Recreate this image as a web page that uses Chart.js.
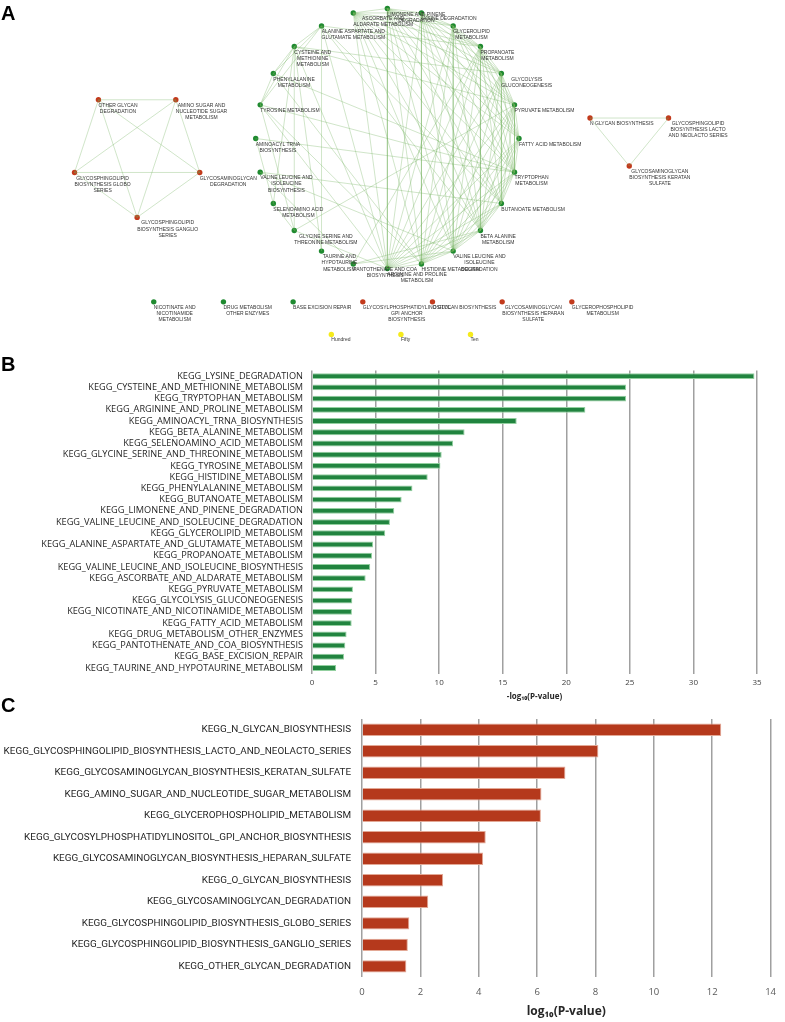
<!DOCTYPE html>
<html>
<head>
<meta charset="utf-8">
<script src="https://cdn.jsdelivr.net/npm/chart.js@4.4.1/dist/chart.umd.min.js"></script>
<style>
  body { margin: 0; background: #fff; width: 785px; height: 1022px; position: relative; overflow: hidden; }
  .box { position: absolute; left: 0; }
  .box canvas { display: block; }
  .tag { position: absolute; left: 1px; font: bold 20px "Liberation Sans", Arial, sans-serif; line-height: 20px; color: #000; }
</style>
</head>
<body>
<div class="box" style="top:0"><canvas id="net" width="785" height="355"></canvas></div>
<div class="box" style="top:356px"><canvas id="chartB" width="785" height="346"></canvas></div>
<div class="box" style="top:702px"><canvas id="chartC" width="785" height="320"></canvas></div>
<div class="tag" style="top:3px">A</div>
<div class="tag" style="top:354px">B</div>
<div class="tag" style="top:695px">C</div>

<script>
// ---- panel B data (green, -log10 P) ----
const bPathways = [
  "KEGG_LYSINE_DEGRADATION",
  "KEGG_CYSTEINE_AND_METHIONINE_METABOLISM",
  "KEGG_TRYPTOPHAN_METABOLISM",
  "KEGG_ARGININE_AND_PROLINE_METABOLISM",
  "KEGG_AMINOACYL_TRNA_BIOSYNTHESIS",
  "KEGG_BETA_ALANINE_METABOLISM",
  "KEGG_SELENOAMINO_ACID_METABOLISM",
  "KEGG_GLYCINE_SERINE_AND_THREONINE_METABOLISM",
  "KEGG_TYROSINE_METABOLISM",
  "KEGG_HISTIDINE_METABOLISM",
  "KEGG_PHENYLALANINE_METABOLISM",
  "KEGG_BUTANOATE_METABOLISM",
  "KEGG_LIMONENE_AND_PINENE_DEGRADATION",
  "KEGG_VALINE_LEUCINE_AND_ISOLEUCINE_DEGRADATION",
  "KEGG_GLYCEROLIPID_METABOLISM",
  "KEGG_ALANINE_ASPARTATE_AND_GLUTAMATE_METABOLISM",
  "KEGG_PROPANOATE_METABOLISM",
  "KEGG_VALINE_LEUCINE_AND_ISOLEUCINE_BIOSYNTHESIS",
  "KEGG_ASCORBATE_AND_ALDARATE_METABOLISM",
  "KEGG_PYRUVATE_METABOLISM",
  "KEGG_GLYCOLYSIS_GLUCONEOGENESIS",
  "KEGG_NICOTINATE_AND_NICOTINAMIDE_METABOLISM",
  "KEGG_FATTY_ACID_METABOLISM",
  "KEGG_DRUG_METABOLISM_OTHER_ENZYMES",
  "KEGG_PANTOTHENATE_AND_COA_BIOSYNTHESIS",
  "KEGG_BASE_EXCISION_REPAIR",
  "KEGG_TAURINE_AND_HYPOTAURINE_METABOLISM"
];
const bScores = [34.8, 24.7, 24.7, 21.5, 16.1, 12.0, 11.1, 10.2, 10.1, 9.1, 7.9, 7.05,
  6.47, 6.13, 5.76, 4.8, 4.72, 4.58, 4.22, 3.22, 3.17, 3.14, 3.12, 2.72, 2.62, 2.52, 1.89];
const bTicks = [0, 5, 10, 15, 20, 25, 30, 35];

// ---- panel C data (red, log10 P) ----
const cPathways = [
  "KEGG_N_GLYCAN_BIOSYNTHESIS",
  "KEGG_GLYCOSPHINGOLIPID_BIOSYNTHESIS_LACTO_AND_NEOLACTO_SERIES",
  "KEGG_GLYCOSAMINOGLYCAN_BIOSYNTHESIS_KERATAN_SULFATE",
  "KEGG_AMINO_SUGAR_AND_NUCLEOTIDE_SUGAR_METABOLISM",
  "KEGG_GLYCEROPHOSPHOLIPID_METABOLISM",
  "KEGG_GLYCOSYLPHOSPHATIDYLINOSITOL_GPI_ANCHOR_BIOSYNTHESIS",
  "KEGG_GLYCOSAMINOGLYCAN_BIOSYNTHESIS_HEPARAN_SULFATE",
  "KEGG_O_GLYCAN_BIOSYNTHESIS",
  "KEGG_GLYCOSAMINOGLYCAN_DEGRADATION",
  "KEGG_GLYCOSPHINGOLIPID_BIOSYNTHESIS_GLOBO_SERIES",
  "KEGG_GLYCOSPHINGOLIPID_BIOSYNTHESIS_GANGLIO_SERIES",
  "KEGG_OTHER_GLYCAN_DEGRADATION"
];
const cScores = [12.31, 8.1, 6.97, 6.15, 6.13, 4.24, 4.15, 2.78, 2.27, 1.62, 1.57, 1.52];
const cTicks = [0, 2, 4, 6, 8, 10, 12, 14];

// ---- panel A network ----
const greenRing = [
  ["LIM", "LIMONENE AND PINENE\nDEGRADATION"],
  ["LYS", "LYSINE DEGRADATION"],
  ["GLL", "GLYCEROLIPID\nMETABOLISM"],
  ["PRO", "PROPANOATE\nMETABOLISM"],
  ["GLY", "GLYCOLYSIS\nGLUCONEOGENESIS"],
  ["PYR", "PYRUVATE METABOLISM"],
  ["FAT", "FATTY ACID METABOLISM"],
  ["TRP", "TRYPTOPHAN\nMETABOLISM"],
  ["BUT", "BUTANOATE METABOLISM"],
  ["BAL", "BETA ALANINE\nMETABOLISM"],
  ["VLD", "VALINE LEUCINE AND\nISOLEUCINE\nDEGRADATION"],
  ["HIS", "HISTIDINE METABOLISM"],
  ["ARG", "ARGININE AND PROLINE\nMETABOLISM"],
  ["PAN", "PANTOTHENATE AND COA\nBIOSYNTHESIS"],
  ["TAU", "TAURINE AND\nHYPOTAURINE\nMETABOLISM"],
  ["GST", "GLYCINE SERINE AND\nTHREONINE METABOLISM"],
  ["SEL", "SELENOAMINO ACID\nMETABOLISM"],
  ["VLB", "VALINE LEUCINE AND\nISOLEUCINE\nBIOSYNTHESIS"],
  ["AMT", "AMINOACYL TRNA\nBIOSYNTHESIS"],
  ["TYR", "TYROSINE METABOLISM"],
  ["PHE", "PHENYLALANINE\nMETABOLISM"],
  ["CYS", "CYSTEINE AND\nMETHIONINE\nMETABOLISM"],
  ["ALA", "ALANINE ASPARTATE AND\nGLUTAMATE METABOLISM"],
  ["ASC", "ASCORBATE AND\nALDARATE METABOLISM"]
];
const redPentagon = [
  ["AMS", "AMINO SUGAR AND\nNUCLEOTIDE SUGAR\nMETABOLISM"],
  ["GAG", "GLYCOSAMINOGLYCAN\nDEGRADATION"],
  ["GAN", "GLYCOSPHINGOLIPID\nBIOSYNTHESIS GANGLIO\nSERIES"],
  ["GLO", "GLYCOSPHINGOLIPID\nBIOSYNTHESIS GLOBO\nSERIES"],
  ["OTH", "OTHER GLYCAN\nDEGRADATION"]
];
const redTriangle = [
  ["NGL", "N GLYCAN BIOSYNTHESIS"],
  ["LAC", "GLYCOSPHINGOLIPID\nBIOSYNTHESIS LACTO\nAND NEOLACTO SERIES"],
  ["KER", "GLYCOSAMINOGLYCAN\nBIOSYNTHESIS KERATAN\nSULFATE"]
];
const singles = [
  ["NIC", "NICOTINATE AND\nNICOTINAMIDE\nMETABOLISM", "green"],
  ["DRG", "DRUG METABOLISM\nOTHER ENZYMES", "green"],
  ["BER", "BASE EXCISION REPAIR", "green"],
  ["GPI", "GLYCOSYLPHOSPHATIDYLINOSITOL\nGPI ANCHOR\nBIOSYNTHESIS", "red"],
  ["OGL", "O GLYCAN BIOSYNTHESIS", "red"],
  ["HEP", "GLYCOSAMINOGLYCAN\nBIOSYNTHESIS HEPARAN\nSULFATE", "red"],
  ["GPL", "GLYCEROPHOSPHOLIPID\nMETABOLISM", "red"]
];
const sizeKey = [["K100", "Hundred"], ["K50", "Fifty"], ["K10", "Ten"]];

// shared-gene links (undirected)
const links = [
  ["LIM", ["LYS", "GLL", "PRO", "GLY", "PYR", "FAT", "TRP", "BUT", "BAL", "VLD", "HIS", "ARG", "ASC"]],
  ["LYS", ["GLL", "PRO", "GLY", "PYR", "FAT", "TRP", "BUT", "BAL", "VLD", "HIS", "ARG", "ASC"]],
  ["GLL", ["PRO", "GLY", "PYR", "FAT", "TRP", "BAL", "VLD", "HIS", "ARG", "ASC"]],
  ["PRO", ["GLY", "PYR", "FAT", "TRP", "BUT", "BAL", "VLD", "HIS", "ARG", "ASC", "PAN", "ALA"]],
  ["GLY", ["PYR", "FAT", "TRP", "BUT", "BAL", "VLD", "HIS", "ARG", "ASC", "CYS"]],
  ["PYR", ["FAT", "TRP", "BUT", "BAL", "VLD", "HIS", "ARG", "ASC", "CYS", "GST"]],
  ["FAT", ["TRP", "BUT", "BAL", "VLD", "HIS", "ARG", "ASC"]],
  ["TRP", ["BUT", "BAL", "VLD", "HIS", "ARG", "ASC", "AMT", "TYR", "PHE"]],
  ["BUT", ["BAL", "VLD", "HIS", "ARG", "ASC", "ALA", "VLB"]],
  ["BAL", ["VLD", "HIS", "ARG", "ASC", "PAN", "ALA"]],
  ["VLD", ["HIS", "ARG", "ASC", "PAN", "VLB"]],
  ["HIS", ["ARG", "ASC", "TYR", "PHE"]],
  ["ARG", ["ASC", "GST", "TYR", "ALA", "CYS"]],
  ["PAN", ["VLB"]],
  ["TAU", ["ALA", "CYS"]],
  ["GST", ["CYS", "SEL", "TYR"]],
  ["SEL", ["CYS", "AMT"]],
  ["TYR", ["PHE", "CYS", "ALA"]],
  ["PHE", ["CYS", "ALA"]],
  ["CYS", ["ALA"]],
  ["OTH", ["AMS", "GAG", "GAN", "GLO"]],
  ["AMS", ["GAG", "GAN", "GLO"]],
  ["GAG", ["GAN", "GLO"]],
  ["GAN", ["GLO"]],
  ["NGL", ["LAC", "KER"]],
  ["LAC", ["KER"]]
];

const colours = { green: "#1f8a30", red: "#c23a1c", yellow: "#f5ea1c" };

// simple cytoscape-like layouts
const nodes = {};
function ringLayout(list, cx, cy, rx, ry, startDeg, colour) {
  list.forEach(([id, label], i) => {
    const a = (startDeg + i * 360 / list.length) * Math.PI / 180;
    nodes[id] = { x: cx + rx * Math.sin(a), y: cy - ry * Math.cos(a), label, colour };
  });
}
function rowLayout(list, x0, y, dx, colour) {
  list.forEach((n, i) => {
    nodes[n[0]] = { x: x0 + i * dx, y, label: n[1], colour: n[2] || colour };
  });
}
ringLayout(greenRing, 387.3, 137.6, 133, 133, 0, "green");
ringLayout(redPentagon, 134.5, 151.8, 66.5, 66.5, 36, "red");
ringLayout(redTriangle, 631.7, 133, 45.8, 32.7, 300, "red");
rowLayout(singles, 151.3, 304.7, 70.4);
rowLayout(sizeKey, 330.7, 338, 70.3, "yellow");

const edgePoints = [];
links.forEach(([a, list]) => {
  list.forEach(b => {
    edgePoints.push({ x: nodes[a].x, y: nodes[a].y }, { x: nodes[b].x, y: nodes[b].y }, { x: null, y: null });
  });
});
const nodeList = Object.values(nodes);

const nodeLabels = {
  id: "nodeLabels",
  afterDatasetsDraw(chart) {
    const { ctx, scales } = chart;
    ctx.save();
    ctx.font = '5px "Liberation Sans", Arial, sans-serif';
    ctx.fillStyle = "#333";
    ctx.textAlign = "center";
    ctx.textBaseline = "middle";
    nodeList.forEach(n => {
      const px = scales.x.getPixelForValue(n.x);
      const py = scales.y.getPixelForValue(n.y);
      const lines = n.label.split("\n");
      const w = Math.max(...lines.map(l => ctx.measureText(l).width));
      lines.forEach((l, i) => ctx.fillText(l, px + w / 2, py + 5.7 + i * 6.2));
    });
    ctx.restore();
  }
};

new Chart(document.getElementById("net"), {
  type: "scatter",
  data: {
    datasets: [
      {
        type: "line",
        data: edgePoints,
        borderColor: "rgba(110,175,90,0.5)",
        borderWidth: 0.65,
        pointRadius: 0,
        spanGaps: false,
        fill: false
      },
      {
        data: nodeList.map(n => ({ x: n.x, y: n.y })),
        pointRadius: 2.7,
        pointBorderWidth: 0,
        pointBackgroundColor: nodeList.map(n => colours[n.colour])
      }
    ]
  },
  options: {
    responsive: false,
    animation: false,
    layout: { padding: 0 },
    plugins: { legend: { display: false }, tooltip: { enabled: false } },
    scales: {
      x: { type: "linear", min: 0, max: 785, display: false },
      y: { type: "linear", min: 0, max: 355, reverse: true, display: false }
    }
  },
  plugins: [nodeLabels]
});

// ---- panel B ----
new Chart(document.getElementById("chartB"), {
  type: "bar",
  data: {
    labels: bPathways,
    datasets: [{
      data: bScores,
      backgroundColor: "#21843f",
      borderColor: "#93d0a0",
      borderWidth: 1,
      categoryPercentage: 1,
      barPercentage: 0.52
    }]
  },
  options: {
    indexAxis: "y",
    responsive: false,
    animation: false,
    layout: { padding: { top: 9.4, right: 28, bottom: 0, left: 0 } },
    plugins: { legend: { display: false }, tooltip: { enabled: false } },
    scales: {
      x: {
        min: bTicks[0],
        max: bTicks[bTicks.length - 1],
        ticks: { stepSize: 5, padding: 4, color: "#404040", font: { family: '"Open Sans"', size: 8 } },
        grid: { color: "#a0a0a0", lineWidth: 1.5, drawTicks: false },
        border: { display: false },
        title: {
          display: true,
          text: "-log₁₀(P-value)",
          color: "#262626",
          font: { family: '"Open Sans"', size: 8, weight: "bold" },
          padding: { top: 0, bottom: 0 }
        },
        afterFit: s => { s.height = 28.4; }
      },
      y: {
        ticks: { autoSkip: false, padding: 9, color: "#262626", font: { family: '"Open Sans"', size: 9.2 } },
        grid: { display: false, drawTicks: false },
        border: { display: false },
        afterFit: s => { s.width = 312; }
      }
    }
  }
});

// ---- panel C ----
new Chart(document.getElementById("chartC"), {
  type: "bar",
  data: {
    labels: cPathways,
    datasets: [{
      data: cScores,
      backgroundColor: "#b5391c",
      borderColor: "#e3a895",
      borderWidth: 1,
      categoryPercentage: 1,
      barPercentage: 0.575
    }]
  },
  options: {
    indexAxis: "y",
    responsive: false,
    animation: false,
    layout: { padding: { top: 9.6, right: 5.7, bottom: 0, left: 0 } },
    plugins: { legend: { display: false }, tooltip: { enabled: false } },
    scales: {
      x: {
        min: cTicks[0],
        max: cTicks[cTicks.length - 1],
        ticks: { stepSize: 2, padding: 9, color: "#595959", font: { family: '"Open Sans"', size: 9.5 } },
        grid: { color: "#a0a0a0", lineWidth: 1.5, drawTicks: false },
        border: { display: false },
        title: {
          display: true,
          text: "log₁₀(P-value)",
          color: "#262626",
          font: { family: '"Open Sans"', size: 12, weight: "bold" },
          padding: { top: 0, bottom: 3 }
        },
        afterFit: s => { s.height = 44.9; }
      },
      y: {
        ticks: { autoSkip: false, padding: 11, color: "#262626", font: { family: "Roboto", size: 9.9 } },
        grid: { display: false, drawTicks: false },
        border: { display: false },
        afterFit: s => { s.width = 362; }
      }
    }
  }
});
</script>
</body>
</html>
